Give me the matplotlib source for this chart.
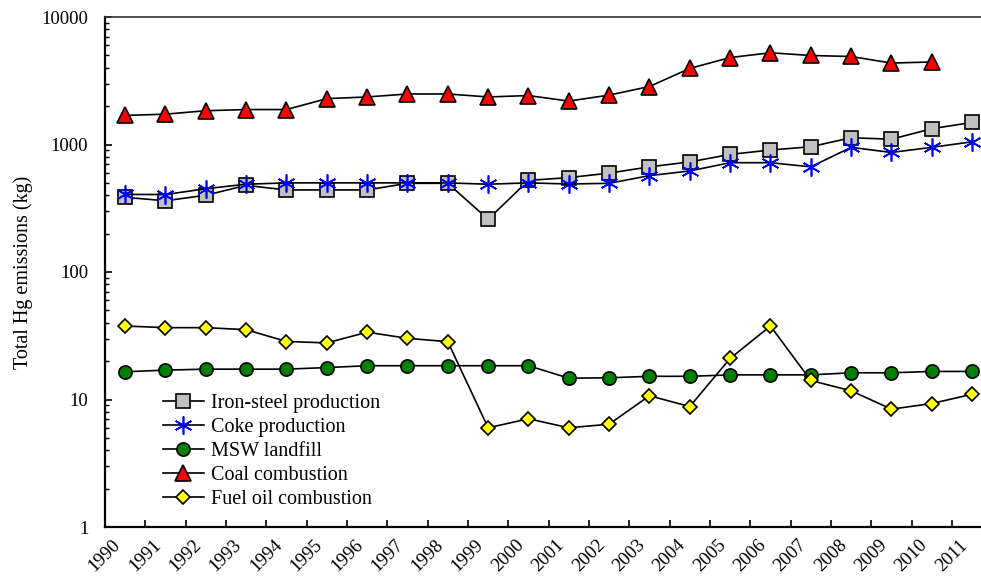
import matplotlib
matplotlib.use("Agg")
import matplotlib.pyplot as plt
import matplotlib.transforms as mtransforms
from matplotlib.ticker import LogLocator, NullFormatter, FixedLocator
import numpy as np

plt.rcParams['font.family'] = ['Liberation Serif', 'DejaVu Serif']

# DATA: total Hg emissions (kg), 1990-2011
lata = [str(r) for r in range(1990, 2012)]

iron_steel = [385, 362, 400, 478, 440, 440, 440, 496, 496, 259, 523,
              550, 596, 668, 730, 836, 905, 960, 1130, 1100, 1330, 1490]
coke = [406, 405, 450, 488, 500, 500, 500, 500, 500, 488, 500,
        490, 496, 570, 620, 720, 720, 668, 950, 866, 950, 1050]
msw_landfill = [16.5, 17.0, 17.3, 17.3, 17.3, 17.8, 18.4, 18.4, 18.4, 18.4, 18.4,
                14.7, 14.8, 15.2, 15.2, 15.6, 15.6, 15.6, 16.2, 16.2, 16.6, 16.6]
coal = [1690, 1730, 1840, 1880, 1880, 2290, 2360, 2490, 2490, 2360, 2420,
        2190, 2440, 2850, 3950, 4810, 5240, 4990, 4900, 4350, 4440, np.nan]
fuel_oil = [37.7, 36.6, 36.6, 35.3, 28.5, 27.8, 33.7, 30.2, 28.4, 6.0, 7.06,
            6.0, 6.4, 10.7, 8.8, 21.0, 37.7, 14.1, 11.7, 8.4, 9.3, 11.0]

x = np.arange(len(lata))

fig = plt.figure(figsize=(9.81, 5.87), dpi=100)
ax = fig.add_axes([105 / 981, 60 / 587, 876 / 981, 510 / 587])

linia = dict(color='black', linewidth=1.2, markeredgecolor='black', markeredgewidth=1.2)

ax.plot(x, iron_steel, marker='s', markersize=10, markerfacecolor='#C0C0C0',
        label='Iron-steel production', **linia)
ax.plot(x, coke, marker=(6, 2, 0), markersize=13, color='black', linewidth=1.2,
        markeredgecolor='#0000FF', markeredgewidth=1.2, label='Coke production')
ax.plot(x, msw_landfill, marker='o', markersize=9.5, markerfacecolor='#008000',
        label='MSW landfill', **linia)
ax.plot(x, coal, marker='^', markersize=11, markerfacecolor='#FF0000',
        label='Coal combustion', **linia)
ax.plot(x, fuel_oil, marker='D', markersize=7.5, markerfacecolor='#FFFF00',
        label='Fuel oil combustion', **linia)

# Oś Y: logarytmiczna
ax.set_yscale('log')
ax.set_ylim(1, 10000)
ax.yaxis.set_minor_locator(LogLocator(base=10, subs=np.arange(2, 10)))
ax.yaxis.set_minor_formatter(NullFormatter())
ax.set_yticks([1, 10, 100, 1000, 10000])
ax.set_yticklabels(['1', '10', '100', '1000', '10000'])
ax.tick_params(axis='y', which='major', direction='in', length=5, width=1.2,
               labelsize=13.5, pad=12)
ax.tick_params(axis='y', which='minor', direction='in', length=3, width=1.0)
ax.set_ylabel('Total Hg emissions (kg)', fontsize=14.5, labelpad=6)

# Oś X: kategorie (lata), kreski między kategoriami
ax.set_xlim(-0.5, -0.5 + 876 / 40.33)
ax.set_xticks(x)
ax.set_xticklabels(lata, rotation=45, ha='right', rotation_mode='anchor')
ax.xaxis.set_minor_locator(FixedLocator(x[:-1] + 0.5))
ax.tick_params(axis='x', which='major', length=0, labelsize=13.5, pad=7)
ax.tick_params(axis='x', which='minor', direction='in', length=5, width=1.2)
przesun = mtransforms.ScaledTranslation(-13 / 100, 0, fig.dpi_scale_trans)
for etykieta in ax.get_xticklabels():
    etykieta.set_transform(etykieta.get_transform() + przesun)

for s in ['left', 'bottom']:
    ax.spines[s].set_linewidth(1.6)
ax.spines['top'].set_linewidth(1.2)
ax.spines['top'].set_color('#333333')
ax.spines['right'].set_visible(False)

ax.legend(loc='lower left', bbox_to_anchor=(0.045, 0.0), frameon=False, fontsize=14.5,
          handlelength=2.05, handletextpad=0.35, labelspacing=0.24, borderaxespad=0.5)

fig.savefig('out.png', dpi=100)
